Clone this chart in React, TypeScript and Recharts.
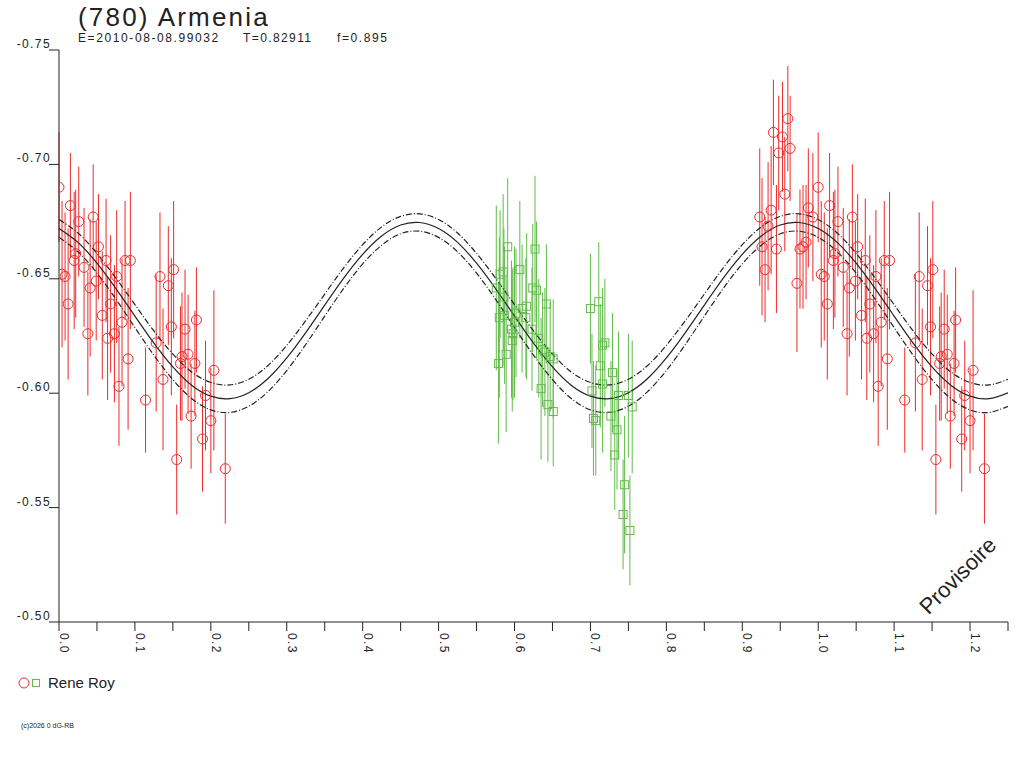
import { ComposedChart, Scatter, Line, XAxis, YAxis, ErrorBar } from "recharts";

const FONT = '"Liberation Sans", Arial, sans-serif';
const RED = "#ee2a2a";
const GREEN = "#62bb4a";
const INK = "#222";

// Rene Roy, session 1 (circles) - phase, reduced mag, error
const redPhase = [
  0.000, 0.015, 0.026, 0.045, 0.052, 0.022, 0.020, 0.033, 0.062, 0.087, 0.094, 0.004, 0.008, 0.076, 0.049,
  0.041, 0.012, 0.068, 0.057, 0.083, 0.038, 0.073, 0.064, 0.091, 0.079, 0.133, 0.151, 0.144, 0.148, 0.166,
  0.181, 0.128, 0.137, 0.114, 0.162, 0.170, 0.179, 0.160, 0.204, 0.193, 0.174, 0.200, 0.189, 0.155, 0.219,
  0.960, 0.941, 0.953, 0.963, 0.948, 0.956, 0.938, 0.923, 0.934, 0.926, 0.945, 0.930, 0.972, 0.987, 0.993,
  0.984, 0.980, 0.976,
];
const redMag = [
  -0.690, -0.682, -0.675, -0.677, -0.664, -0.661, -0.658, -0.655, -0.658, -0.658, -0.658, -0.652, -0.651, -0.651, -0.649,
  -0.646, -0.639, -0.639, -0.634, -0.631, -0.626, -0.626, -0.624, -0.615, -0.603, -0.651, -0.654, -0.647, -0.629, -0.628,
  -0.632, -0.622, -0.606, -0.597, -0.616, -0.617, -0.613, -0.613, -0.610, -0.599, -0.590, -0.588, -0.580, -0.571, -0.567,
  -0.720, -0.714, -0.712, -0.707, -0.705, -0.687, -0.680, -0.677, -0.673, -0.664, -0.663, -0.654, -0.648, -0.681, -0.677,
  -0.666, -0.664, -0.663,
];
const redErr = [
  0.024, 0.023, 0.024, 0.023, 0.023, 0.028, 0.030, 0.026, 0.027, 0.026, 0.030, 0.032, 0.028, 0.029, 0.026,
  0.030, 0.033, 0.030, 0.028, 0.028, 0.027, 0.030, 0.027, 0.031, 0.026, 0.028, 0.030, 0.026, 0.030, 0.026,
  0.023, 0.030, 0.031, 0.023, 0.028, 0.026, 0.023, 0.025, 0.035, 0.024, 0.023, 0.023, 0.023, 0.024, 0.024,
  0.023, 0.023, 0.024, 0.023, 0.025, 0.025, 0.028, 0.030, 0.028, 0.030, 0.028, 0.023, 0.030, 0.026, 0.028,
  0.025, 0.027, 0.026,
];

// Rene Roy, session 2 (squares)
const greenPhase = [
  0.591, 0.627, 0.607, 0.585, 0.581, 0.576, 0.624, 0.629, 0.642, 0.616, 0.610, 0.580, 0.587, 0.615, 0.600,
  0.596, 0.623, 0.598, 0.632, 0.597, 0.589, 0.637, 0.640, 0.647, 0.651, 0.579, 0.635, 0.644, 0.651, 0.586,
  0.602,
  0.700, 0.711, 0.719, 0.716, 0.713, 0.729, 0.716, 0.702, 0.737, 0.750, 0.755, 0.727, 0.704, 0.707, 0.735,
  0.732, 0.745, 0.743, 0.752,
];
const greenMag = [
  -0.664, -0.663, -0.654, -0.653, -0.652, -0.646, -0.646, -0.645, -0.639, -0.638, -0.637, -0.633, -0.634, -0.633, -0.631,
  -0.628, -0.628, -0.626, -0.624, -0.623, -0.617, -0.619, -0.618, -0.616, -0.615, -0.613, -0.602, -0.595, -0.592, -0.642,
  -0.635,
  -0.637, -0.640, -0.622, -0.621, -0.612, -0.609, -0.604, -0.601, -0.599, -0.599, -0.594, -0.590, -0.589, -0.588, -0.584,
  -0.573, -0.560, -0.547, -0.540,
];
const greenErr = [
  0.030, 0.032, 0.030, 0.034, 0.028, 0.036, 0.028, 0.030, 0.026, 0.032, 0.028, 0.035, 0.030, 0.026, 0.033,
  0.030, 0.027, 0.029, 0.026, 0.031, 0.034, 0.025, 0.028, 0.024, 0.026, 0.035, 0.031, 0.025, 0.024, 0.030,
  0.028,
  0.024, 0.026, 0.028, 0.025, 0.027, 0.026, 0.030, 0.025, 0.028, 0.027, 0.029, 0.024, 0.025, 0.024, 0.026,
  0.024, 0.030, 0.024, 0.024,
];

const curvePhase = [
  0.000, 0.025, 0.050, 0.075, 0.100, 0.125, 0.150, 0.175, 0.200, 0.225, 0.250, 0.275, 0.300, 0.325, 0.350, 0.375, 0.400,
  0.425, 0.450, 0.475, 0.500, 0.525, 0.550, 0.575, 0.600, 0.625, 0.650, 0.675, 0.700, 0.725, 0.750, 0.775, 0.800, 0.825,
  0.850, 0.875, 0.900, 0.925, 0.950, 0.975, 1.000, 1.025, 1.050, 1.075, 1.100, 1.125, 1.150, 1.175, 1.200, 1.225, 1.250,
];
const curveMid = [
  -0.6720, -0.6659, -0.6568, -0.6457, -0.6337, -0.6219, -0.6115, -0.6034, -0.5987, -0.5976, -0.6002, -0.6063, -0.6154,
  -0.6265, -0.6385, -0.6503, -0.6607, -0.6687, -0.6735, -0.6746, -0.6720, -0.6659, -0.6568, -0.6457, -0.6337, -0.6219,
  -0.6115, -0.6034, -0.5987, -0.5976, -0.6002, -0.6063, -0.6154, -0.6265, -0.6385, -0.6503, -0.6607, -0.6687, -0.6735,
  -0.6746, -0.6720, -0.6659, -0.6568, -0.6457, -0.6337, -0.6219, -0.6115, -0.6034, -0.5987, -0.5976, -0.6002,
];
const curveUp = [
  -0.6759, -0.6700, -0.6611, -0.6503, -0.6387, -0.6272, -0.6171, -0.6092, -0.6047, -0.6036, -0.6061, -0.6120, -0.6209,
  -0.6317, -0.6433, -0.6548, -0.6649, -0.6727, -0.6773, -0.6784, -0.6759, -0.6700, -0.6611, -0.6503, -0.6387, -0.6272,
  -0.6171, -0.6092, -0.6047, -0.6036, -0.6061, -0.6120, -0.6209, -0.6317, -0.6433, -0.6548, -0.6649, -0.6727, -0.6773,
  -0.6784, -0.6759, -0.6700, -0.6611, -0.6503, -0.6387, -0.6272, -0.6171, -0.6092, -0.6047, -0.6036, -0.6061,
];
const curveLow = [
  -0.6681, -0.6618, -0.6525, -0.6411, -0.6287, -0.6166, -0.6059, -0.5976, -0.5927, -0.5916, -0.5943, -0.6006, -0.6099,
  -0.6213, -0.6337, -0.6458, -0.6565, -0.6647, -0.6697, -0.6708, -0.6681, -0.6618, -0.6525, -0.6411, -0.6287, -0.6166,
  -0.6059, -0.5976, -0.5927, -0.5916, -0.5943, -0.6006, -0.6099, -0.6213, -0.6337, -0.6458, -0.6565, -0.6647, -0.6697,
  -0.6708, -0.6681, -0.6618, -0.6525, -0.6411, -0.6287, -0.6166, -0.6059, -0.5976, -0.5927, -0.5916, -0.5943,
];

const xTicks = [
  0, 0.05, 0.1, 0.15, 0.2, 0.25, 0.3, 0.35, 0.4, 0.45, 0.5, 0.55, 0.6, 0.65, 0.7, 0.75, 0.8, 0.85, 0.9, 0.95, 1.0,
  1.05, 1.1, 1.15, 1.2, 1.25,
];
const yTicks = [-0.75, -0.7, -0.65, -0.6, -0.55, -0.5];

// points below phase 0.25 are repeated one cycle later
const redPoints = redPhase.flatMap((p, i) => {
  const pt = { x: p, y: redMag[i], err: redErr[i] };
  return p < 0.25 ? [pt, { ...pt, x: p + 1 }] : [pt];
});
const greenPoints = greenPhase.map((p, i) => ({ x: p, y: greenMag[i], err: greenErr[i] }));
const curveData = curvePhase.map((x, i) => ({ x, mid: curveMid[i], up: curveUp[i], low: curveLow[i] }));

const Circle = (props: any) => (
  <circle cx={props.cx} cy={props.cy} r={5} fill="none" stroke={RED} strokeWidth={1} />
);
const Square = (props: any) => (
  <rect x={props.cx - 4} y={props.cy - 4} width={8} height={8} fill="none" stroke={GREEN} strokeWidth={1} />
);

const XTick = (props: any) => {
  const { x, y, payload } = props;
  const v = payload.value;
  if (Math.round(v * 100) % 10 !== 0) return <g />;
  return (
    <text
      transform={`translate(${x + 1},${y + 2}) rotate(90)`}
      fontFamily={FONT}
      fontSize={12}
      letterSpacing={1.4}
      fill={INK}
      textAnchor="start"
    >
      {v.toFixed(1)}
    </text>
  );
};

const YTick = (props: any) => {
  const { x, y, payload } = props;
  return (
    <text x={x + 2} y={y - 2} fontFamily={FONT} fontSize={12} letterSpacing={1.4} fill={INK} textAnchor="end">
      {payload.value.toFixed(2)}
    </text>
  );
};

export default function App() {
  return (
    <div style={{ position: "absolute", left: 0, top: 0, width: 1024, height: 768, background: "#fff" }}>
      <ComposedChart width={1024} height={768} margin={{ top: 50, right: 16, bottom: 106, left: 0 }}>
        <XAxis
          dataKey="x"
          type="number"
          domain={[0, 1.25]}
          ticks={xTicks}
          interval={0}
          allowDataOverflow
          height={40}
          tickSize={9}
          tickMargin={0}
          stroke={INK}
          tick={<XTick />}
        />
        <YAxis
          type="number"
          domain={[-0.75, -0.5]}
          reversed
          ticks={yTicks}
          interval={0}
          allowDataOverflow
          width={59}
          tickSize={10}
          tickMargin={0}
          stroke={INK}
          tick={<YTick />}
        />
        <Scatter data={redPoints} dataKey="y" shape={<Circle />} isAnimationActive={false}>
          <ErrorBar dataKey="err" direction="y" width={0} stroke={RED} strokeWidth={1} isAnimationActive={false} />
        </Scatter>
        <Scatter data={greenPoints} dataKey="y" shape={<Square />} isAnimationActive={false}>
          <ErrorBar dataKey="err" direction="y" width={0} stroke={GREEN} strokeWidth={1} isAnimationActive={false} />
        </Scatter>
        <Line data={curveData} dataKey="up" type="natural" stroke={INK} strokeWidth={1.2} strokeDasharray="6 2 1 2" dot={false} activeDot={false} isAnimationActive={false} />
        <Line data={curveData} dataKey="low" type="natural" stroke={INK} strokeWidth={1.2} strokeDasharray="6 2 1 2" dot={false} activeDot={false} isAnimationActive={false} />
        <Line data={curveData} dataKey="mid" type="natural" stroke={INK} strokeWidth={1.2} dot={false} activeDot={false} isAnimationActive={false} />
      </ComposedChart>
      <svg width={1024} height={768} style={{ position: "absolute", left: 0, top: 0, pointerEvents: "none" }}>
        <text x={78} y={26} fontFamily={FONT} fontSize={26} letterSpacing={2.2} fill={INK}>
          (780) Armenia
        </text>
        <text x={78} y={42} fontFamily={FONT} fontSize={12} letterSpacing={1.6} fill={INK}>
          E=2010-08-08.99032
        </text>
        <text x={243} y={42} fontFamily={FONT} fontSize={12} letterSpacing={1.4} fill={INK}>
          T=0.82911
        </text>
        <text x={337} y={42} fontFamily={FONT} fontSize={12} letterSpacing={1.6} fill={INK}>
          f=0.895
        </text>
        <text
          transform="translate(963,581) rotate(-45)"
          fontFamily={FONT}
          fontSize={22}
          fill={INK}
          textAnchor="middle"
        >
          Provisoire
        </text>
        <circle cx={24} cy={683} r={5} fill="none" stroke={RED} strokeWidth={1} />
        <rect x={32.5} y={679.5} width={7} height={7} fill="none" stroke={GREEN} strokeWidth={1} />
        <text x={48} y={688} fontFamily={FONT} fontSize={15} fill={INK}>
          Rene Roy
        </text>
        <text x={21} y={728} fontFamily={FONT} fontSize={7} fill={INK}>
          (c)2026 0 dG-RB
        </text>
      </svg>
    </div>
  );
}
